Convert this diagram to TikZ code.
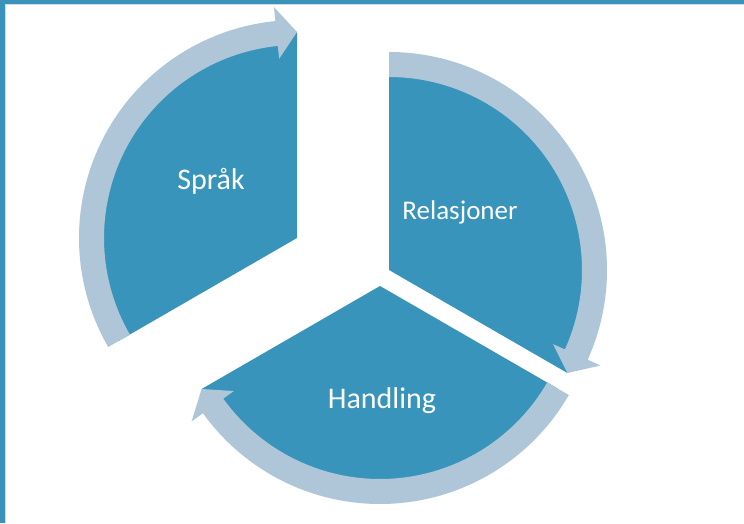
\documentclass[tikz,border=0pt]{standalone}
\usepackage{fontspec}
\setmainfont{Carlito}
\usetikzlibrary{calc}
\definecolor{piecol}{HTML}{3894BA}
\definecolor{bandcol}{HTML}{AEC6D8}
\definecolor{framecol}{HTML}{3892BA}
\tikzset{
  pie/.style={fill=piecol},
  band/.style={fill=bandcol},
  lbl/.style={text=white, font=\fontsize{30}{36}\selectfont, inner sep=0pt},
}
% #1 start angle (band begins), #2 tip angle, #3 base angle of the head
\newcommand{\cyclearrow}[3]{%
  \fill[band] (#1:218) arc[start angle=#1, end angle=#3, radius=218]
     -- (#3:232) -- (#2:206) -- (#3:180) -- (#3:193)
     arc[start angle=#3, end angle=#1, radius=193] -- cycle;}
\begin{document}
\begin{tikzpicture}[x=1pt,y=1pt]
\useasboundingbox (0,0) rectangle (744,523);
\fill[white] (0,0) rectangle (744,523);
% frame
\fill[framecol] (0,518.5) rectangle (744,523);
\fill[framecol] (0,0) rectangle (4.5,523);
\draw[bandcol!60, line width=0.6pt] (4.8,518.2) -- (744,518.2);
\draw[bandcol!60, line width=0.6pt] (4.8,0) -- (4.8,518.2);
% centres of the three segments
\coordinate (S) at (297,285);
\coordinate (R) at (389,253);
\coordinate (H) at (380,237);
% Sprak
\begin{scope}[shift={(S)}]
  \fill[pie] (0,0) -- (90:206) arc[start angle=90, end angle=210, radius=206] -- cycle;
  \cyclearrow{210}{90}{95.7}
\end{scope}
% Relasjoner
\begin{scope}[shift={(R)}]
  \fill[pie] (0,0) -- (90:206) arc[start angle=90, end angle=-30, radius=206] -- cycle;
  \cyclearrow{90}{-30}{-24.3}
\end{scope}
% Handling
\begin{scope}[shift={(H)}]
  \fill[pie] (0,0) -- (-30:206) arc[start angle=-30, end angle=-150, radius=206] -- cycle;
  \cyclearrow{-30}{-150}{-144.3}
\end{scope}
% labels
\node[lbl] (tsprak) at (211,342) {Språk};
\node[lbl, font=\fontsize{27}{32}\selectfont] (trel) at (460,311) {Relasjoner};
\node[lbl] (thand) at (382,122) {Handling};
\end{tikzpicture}
\end{document}
